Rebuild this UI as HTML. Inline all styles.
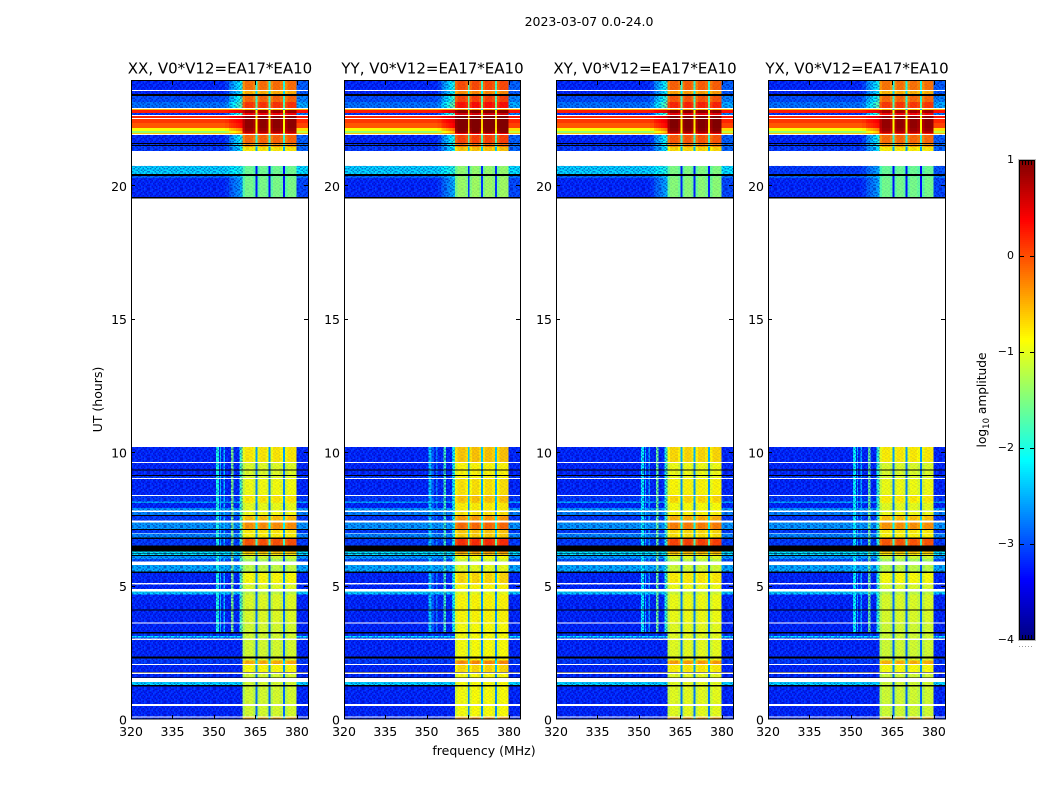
<!DOCTYPE html>
<html lang="en">
<head>
<meta charset="utf-8">
<title>2023-03-07 0.0-24.0</title>
<style>
html,body{margin:0;padding:0;background:#fff;width:1050px;height:800px;overflow:hidden}
svg{display:block}
text{font-family:"DejaVu Sans","Liberation Sans",sans-serif;fill:#000}
</style>
</head>
<body>
<svg id="fig" xmlns="http://www.w3.org/2000/svg" width="1050" height="800" viewBox="0 0 1050 800">
  <defs id="defs"></defs>
  <rect x="0" y="0" width="1050" height="800" fill="#fff"/>
  <text x="589" y="26" font-size="12.5" text-anchor="middle">2023-03-07 0.0-24.0</text>
  <text transform="translate(102,399.5) rotate(-90)" font-size="12.5" text-anchor="middle">UT (hours)</text>
  <text x="484" y="755" font-size="12.5" text-anchor="middle">frequency (MHz)</text>
  <text transform="translate(986,400) rotate(-90)" font-size="12.2" text-anchor="middle">log<tspan font-size="8.5" dy="3">10</tspan><tspan dy="-3"> amplitude</tspan></text>
  <g id="panels"></g>
  <g id="colorbar"></g>
</svg>
<script>
// ---- categories and tick labels ----
const panelNames = ['XX', 'YY', 'XY', 'YX'];
const baselineLabel = 'V0*V12=EA17*EA10';
const freqTicks = [320, 335, 350, 365, 380];
const timeTicks = [0, 5, 10, 15, 20];
const colorTicks = [-4, -3, -2, -1, 0, 1];

// ---- heatmap rows: UT at the top of each row (the last one is the lower axis limit) ----
const W = null;   // no data (white)
const K = -9;     // flagged (black)
const rowTop = [23.91,23.58,23.54,23.43,23.35,23.13,22.90,22.86,22.83,22.71,22.64,22.60,22.53,22.49,22.34,22.15,22.04,21.96,21.93,21.89,21.59,21.55,21.51,21.48,21.44,21.29,20.73,20.43,20.35,20.28,19.57,19.51,
  10.19,9.63,9.60,9.35,9.31,9.15,9.11,9.03,9.00,8.40,8.36,8.15,8.10,7.91,7.81,7.75,7.65,7.61,7.43,7.36,7.13,7.08,6.98,6.95,6.80,6.75,6.50,6.27,6.23,6.20,6.15,6.11,5.99,5.90,5.77,5.52,5.48,5.09,5.05,4.87,4.77,4.66,4.11,4.07,3.62,3.58,3.26,3.21,3.12,3.06,3.01,2.97,2.34,2.26,2.19,2.06,2.02,1.77,1.74,1.69,1.56,1.53,1.38,1.27,1.21,0.56,0.48,0.09,0.05,0];
// log10 amplitude outside the receiver band, one per row
const rowBase = [-3.2,W,-3.2,K,-3.0,-2.8,W,-0.5,0.25,-3.1,W,0.2,W,0.1,-0.05,-0.9,-1.4,-0.6,W,-3.2,K,-3.1,K,-3.1,-3.1,W,-2.3,K,-2.9,-3.2,K,W,
  -3.2,W,-3.2,K,-3.2,K,-3.1,W,-3.2,W,-3.1,-2.5,-3.2,-2.6,W,-2.7,K,-3.1,W,-2.6,K,-3.1,W,-2.7,K,-3.1,K,-2.2,K,-2.2,K,-2.6,-3.0,W,-2.5,K,-3.2,W,-3.2,W,-2.3,-3.2,K,-3.2,W,-3.2,K,-3.1,-2.2,-3.1,W,-3.2,K,-3.1,-3.1,W,-3.2,K,W,-3.2,K,W,-2.3,K,-3.2,W,-3.2,W,-3.2];
// log10 amplitude inside the receiver band, one per row
const rowBand = [-0.1,W,-0.4,K,-0.05,0.2,W,-0.5,0.95,0.45,W,1.0,W,1.0,1.0,0.95,0.85,0.3,W,-0.05,K,-0.3,K,-0.3,-0.7,W,-1.5,K,-1.5,-1.45,K,W,
  -0.7,W,-0.95,K,-0.95,K,-0.95,W,-0.85,W,-0.7,-0.75,-0.9,-0.9,W,-0.85,K,-0.5,W,-0.25,K,-0.7,W,-0.75,K,0.05,K,-0.5,K,-0.7,K,-1.0,-1.2,W,-1.1,K,-0.8,W,-0.95,W,-1.1,-0.95,K,-0.95,W,-1.0,K,-1.0,-1.0,-1.0,W,-1.0,K,-0.95,-0.4,W,-0.8,K,W,-1.0,K,W,-1.0,K,-1.0,W,-1.0,W,-0.4];

// ---- heatmap columns: frequency edges in MHz ----
const colEdge = [320,350.7,351.8,352.1,352.6,353.5,354,355.5,356.1,357,358,358.6,359.2,359.6,360.4,361.2,364.2,365,365.7,366.5,369,369.8,370.5,371.3,373.9,374.9,375.6,376.5,379,379.9,384];
// fraction of the way from base to band level in the late-day session, one per column
const colMix = [0,0,0,0,0,0,0.05,0.16,0.2,0.25,0.3,0.33,0.36,0.4,1,1,1,1,1,1,1,1,1,1,1,1,1,1,1,0.1];
// level of the narrow vertical interference lines, one per column (W = none)
const colRfi = [W,-2.0,W,-2.3,W,-2.4,W,W,-1.5,W,W,W,-2.0,-1.7,W,W,W,W,W,W,W,W,W,W,W,W,W,W,W,W];
// offset from the row band level inside the receiver band (W = outside the band, slit = between channels)
const SLIT = -1.8;
const colBand = [W,W,W,W,W,W,W,W,W,W,W,W,W,W,-0.2,-0.02,-0.14,SLIT,-0.16,0.0,-0.14,SLIT,-0.16,0.0,-0.1,SLIT,-0.16,0.0,-0.02,W];

// ---- session limits and per-panel level offsets ----
const lateSessionStart = 19;
const rfiStart = 3.2;
const rfiEnd = 10.19;
const panelBandOffset = [-0.06, 0.12, 0.02, -0.08];
const panelRfiOffset = [0, -0.3, -0.1, -0.1];
const quietRowTop = 20.73;
const quietRowBase = [-2.3, -2.3, -2.3, -3.1];
// receiver noise grain overlaid on quiet rows: 0 none, 1 low, 2 high
const grainTile = [
  [1,0,2,0,1,1,0,0,2,0,1],
  [0,2,0,1,0,0,2,1,0,1,0],
  [1,1,0,0,2,0,1,0,1,0,2],
  [0,0,1,2,0,1,0,2,0,1,0],
  [2,1,0,0,1,0,0,1,0,0,1],
  [0,0,2,1,0,2,1,0,1,2,0],
  [1,0,0,0,1,0,0,1,0,0,1],
  [0,2,1,0,0,1,2,0,0,1,0],
  [1,0,0,1,2,0,0,1,2,0,1]
];
const grainThreshold = -2.0;
const bandStart = 360.4, bandEnd = 379.9;

// ---- axis functions ----
const AX = { top: 81, bottom: 719 };
const panelLeft = [131, 344, 556, 768];
const panelWidth = [177, 176, 177, 177];
const CB = { x: 1019, w: 16, top: 160, bottom: 640, min: -4, max: 1 };
const FREQ_MIN = 320, FREQ_MAX = 384, TIME_MAX = 23.91;
function xScale(f, p) { return panelLeft[p] + (f - FREQ_MIN) / (FREQ_MAX - FREQ_MIN) * panelWidth[p]; }
function yScale(t) { return AX.bottom - t / TIME_MAX * (AX.bottom - AX.top); }
function cbScale(v) { return CB.bottom - (v - CB.min) / (CB.max - CB.min) * (CB.bottom - CB.top); }
function jet(frac) {
  const c = x => Math.round(255 * Math.max(0, Math.min(1, x)));
  const f = Math.max(0, Math.min(1, frac));
  return 'rgb(' + c(1.5 - Math.abs(4 * f - 3)) + ',' + c(1.5 - Math.abs(4 * f - 2)) + ',' + c(1.5 - Math.abs(4 * f - 1)) + ')';
}
function levelColor(v) {
  if (v === K) return '#000';
  return jet((v - CB.min) / (CB.max - CB.min));
}
const NS = 'http://www.w3.org/2000/svg';
function node(parent, tag, attrs, text) {
  const el = document.createElementNS(NS, tag);
  for (const k in attrs) el.setAttribute(k, attrs[k]);
  if (text !== undefined) el.textContent = text;
  parent.appendChild(el);
  return el;
}
function cellLevel(p, r, c) {
  let base = rowBase[r], band = rowBand[r];
  const t = rowTop[r];
  if (base === W) return W;
  if (base === K) return K;
  if (t === quietRowTop) base = quietRowBase[p];
  band += panelBandOffset[p];
  const late = t > lateSessionStart;
  if (colBand[c] !== W) {
    return band + colBand[c];
  }
  let v = base;
  if (late) v = base + (band - base) * colMix[c];
  const midT = (t + rowTop[r + 1]) / 2;
  if (colRfi[c] !== W && midT > rfiStart && midT < rfiEnd) {
    v = Math.max(v, colRfi[c] + panelRfiOffset[p]);
  }
  return v;
}

// grain pattern built from the tile
const CELL = 1.5;
const pat = node(document.getElementById('defs'), 'pattern', { id: 'grain', patternUnits: 'userSpaceOnUse', width: grainTile[0].length * CELL, height: grainTile.length * CELL });
grainTile.forEach(function (line, j) {
  line.forEach(function (g, i) {
    if (g === 0) return;
    node(pat, 'rect', { x: i * CELL, y: j * CELL, width: CELL, height: CELL, fill: g === 1 ? 'rgba(0,0,150,0.45)' : 'rgba(0,110,255,0.4)' });
  });
});

const panelsG = document.getElementById('panels');
panelNames.forEach(function (name, p) {
  const left = panelLeft[p], width = panelWidth[p];
  const g = node(panelsG, 'g', {});
  
  

  const title = node(g, 'text', { x: left + width / 2 + 0.5, y: 73.5, 'font-size': 15, 'text-anchor': 'middle' }, name + ', ' + baselineLabel);
  
  

  const cells = node(g, 'g', { 'shape-rendering': 'crispEdges' });
  
  
  for (let r = 0; r < rowBase.length; r++) {
    for (let c = 0; c < colEdge.length - 1; c++) {
      const v = cellLevel(p, r, c);
      if (v === W) continue;
      const x0 = xScale(colEdge[c], p), x1 = xScale(colEdge[c + 1], p);
      const y0 = yScale(rowTop[r]), y1 = yScale(rowTop[r + 1]);
      const cell = node(cells, 'rect', { x: x0.toFixed(2), y: y0.toFixed(2), width: (x1 - x0).toFixed(2), height: (y1 - y0).toFixed(2), fill: levelColor(v) });
      
      
    }
    if (rowBase[r] !== W && rowBase[r] !== K && rowBase[r] < grainThreshold) {
      const y0 = yScale(rowTop[r]), y1 = yScale(rowTop[r + 1]);
      const xa = xScale(FREQ_MIN, p), xb = xScale(bandStart, p), xc = xScale(bandEnd, p), xd = xScale(FREQ_MAX, p);
      const g1 = node(g, 'rect', { x: xa, y: y0.toFixed(2), width: xb - xa, height: (y1 - y0).toFixed(2), fill: 'url(#grain)' });
      
      
      const g2 = node(g, 'rect', { x: xb, y: y0.toFixed(2), width: xc - xb, height: (y1 - y0).toFixed(2), fill: 'url(#grain)', opacity: 0.2 });
      
      
      const g3 = node(g, 'rect', { x: xc, y: y0.toFixed(2), width: xd - xc, height: (y1 - y0).toFixed(2), fill: 'url(#grain)' });
      
      
    }
  }

  const frame = node(g, 'rect', { x: left + 0.5, y: AX.top - 0.5, width: width, height: AX.bottom - AX.top + 0.5, fill: 'none', stroke: '#000', 'stroke-width': 1 });
  
  

  freqTicks.forEach(function (f) {
    const x = Math.round(xScale(f, p)) + 0.5;
    const t1 = node(g, 'line', { x1: x, x2: x, y1: AX.bottom, y2: AX.bottom - 4, stroke: '#000' });
    
    
    const t2 = node(g, 'line', { x1: x, x2: x, y1: AX.top, y2: AX.top + 4, stroke: '#000' });
    
    
    const lb = node(g, 'text', { x: xScale(f, p), y: 736, 'font-size': 12.5, 'text-anchor': 'middle' }, String(f));
    
    
  });
  timeTicks.forEach(function (t) {
    const y = Math.round(yScale(t)) + 0.5;
    if (t > 0) {
      const t1 = node(g, 'line', { x1: left, x2: left + 4, y1: y, y2: y, stroke: '#000' });
      
      
      const t2 = node(g, 'line', { x1: left + width, x2: left + width - 4, y1: y, y2: y, stroke: '#000' });
      
      
    }
    const lb = node(g, 'text', { x: left - 4, y: yScale(t) + 5.5, 'font-size': 12.5, 'text-anchor': 'end' }, String(t));
    
    
  });
});

// ---- colorbar ----
const cbG = document.getElementById('colorbar');
const outer = node(cbG, 'rect', { x: CB.x - 0.5, y: CB.top - 0.5, width: CB.w + 1, height: CB.bottom - CB.top + 1, fill: 'none', stroke: '#bbb' });


const ramp = node(cbG, 'g', { 'shape-rendering': 'crispEdges' });


for (let py = CB.top; py < CB.bottom; py += 2) {
  const s = node(ramp, 'rect', { x: CB.x, y: py, width: CB.w, height: 2, fill: jet((CB.bottom - py - 1) / (CB.bottom - CB.top)) });
  
  
}
const cbFrame = node(cbG, 'rect', { x: CB.x + 0.5, y: CB.top + 0.5, width: CB.w - 1, height: CB.bottom - CB.top - 1, fill: 'none', stroke: '#000' });


colorTicks.forEach(function (v) {
  const y = Math.round(cbScale(v)) + 0.5;
  if (v > CB.min && v < CB.max) {
    const a = node(cbG, 'line', { x1: CB.x, x2: CB.x + 5, y1: y, y2: y, stroke: '#000' });
    
    
    const b = node(cbG, 'line', { x1: CB.x + CB.w, x2: CB.x + CB.w - 5, y1: y, y2: y, stroke: '#000' });
    
    
  }
  const lb = node(cbG, 'text', { x: 1014, y: cbScale(v) + 3, 'font-size': 11, 'text-anchor': 'end' }, (v < 0 ? '\u2212' : '') + Math.abs(v));
  
  
});
[3, 6, 9, 12, 15].forEach(function (dx) {
  const top = node(cbG, 'line', { x1: CB.x + dx + 0.5, x2: CB.x + dx + 0.5, y1: CB.top, y2: CB.top + 5, stroke: '#000' });
  
  
  const bot = node(cbG, 'line', { x1: CB.x + dx + 0.5, x2: CB.x + dx + 0.5, y1: CB.bottom, y2: CB.bottom - 5, stroke: '#000' });
  
  
  const dot = node(cbG, 'rect', { x: CB.x + dx - 3, y: 646, width: 1, height: 1, fill: '#999' });
  
  
});
</script>
</body>
</html>
